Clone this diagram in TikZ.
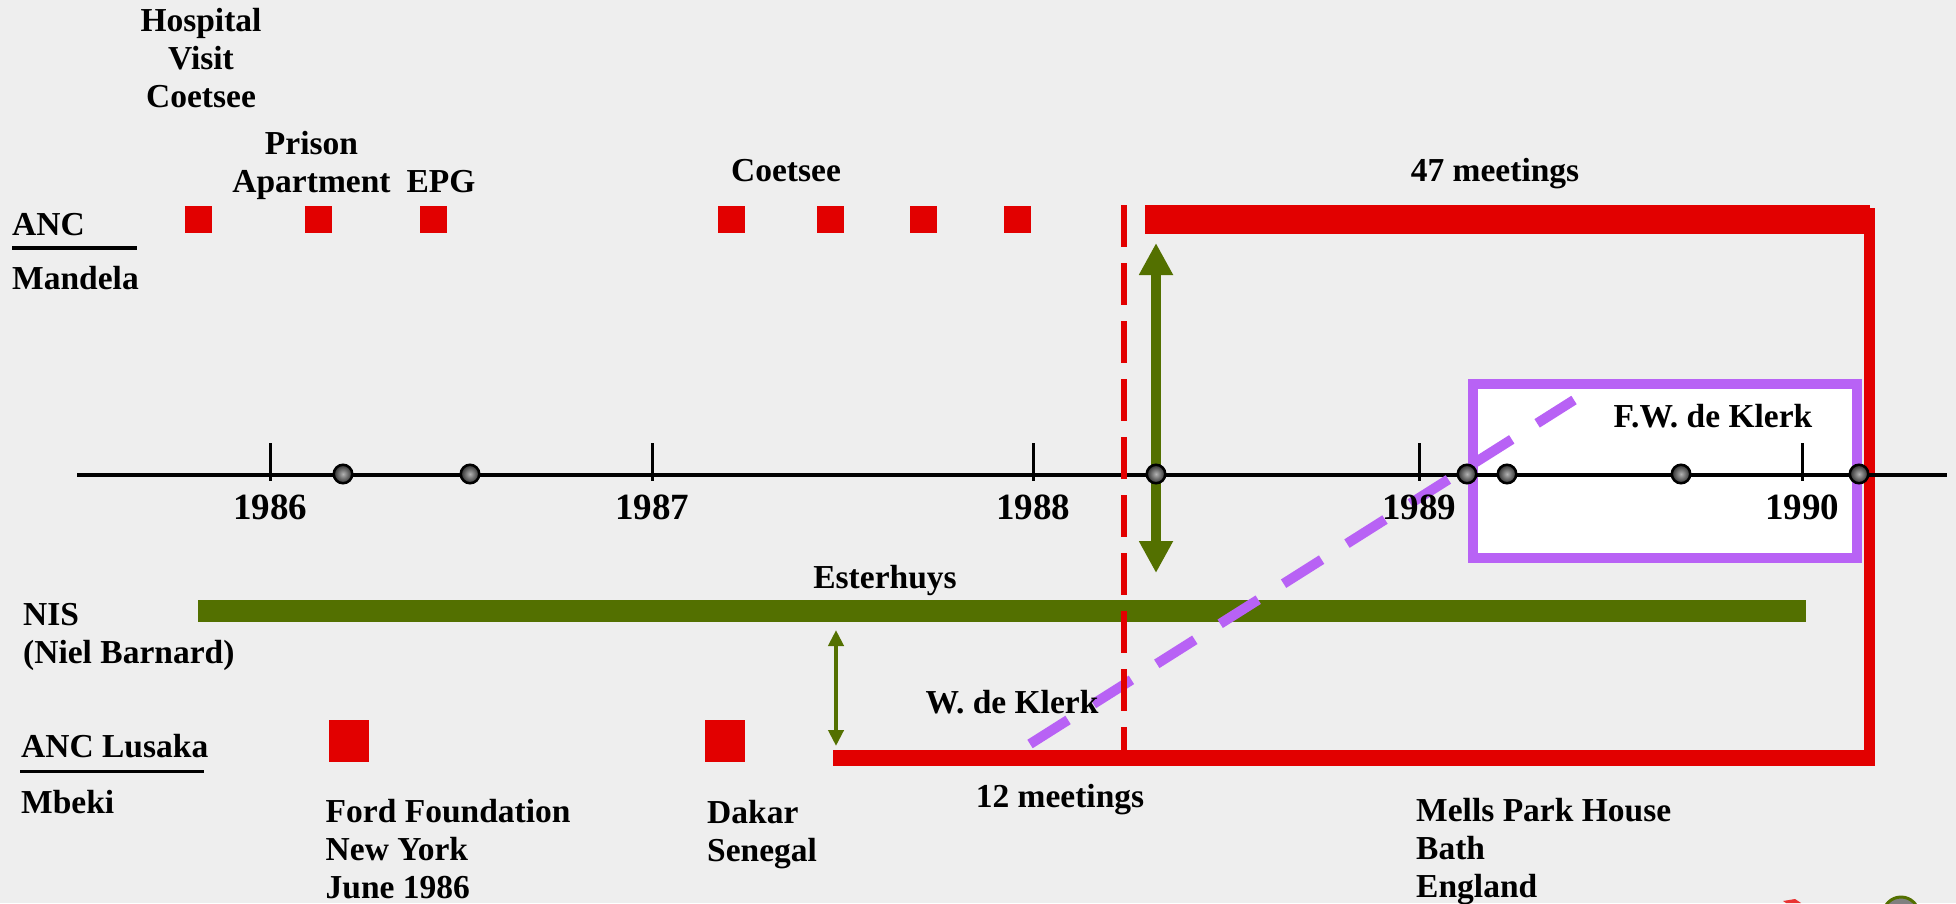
\documentclass[tikz,border=0pt]{standalone}
\usepackage{fontspec}
\setmainfont{Liberation Serif}
\usetikzlibrary{arrows.meta}
\definecolor{bggray}{RGB}{238,238,238}
\definecolor{ancred}{RGB}{226,0,0}
\definecolor{nisgreen}{RGB}{83,112,0}
\definecolor{fwpurple}{RGB}{184,98,245}
\newcommand{\lblfont}{\fontsize{33.5}{38}\selectfont\bfseries}
\newcommand{\yrfont}{\fontsize{37}{40}\selectfont\bfseries}
\tikzset{
  lbl/.style={font=\lblfont,inner sep=0pt,anchor=base},
  lblw/.style={lbl,anchor=base west,align=left},
  yr/.style={font=\yrfont,inner sep=0pt,anchor=base},
  meet/.style={fill=ancred,inner sep=0pt,minimum size=27pt},
  lusaka/.style={fill=ancred,inner sep=0pt,minimum width=40pt,minimum height=42pt},
  dot/.style={circle,draw=black,line width=2.5pt,inner sep=0pt,minimum size=18.5pt,
    inner color=gray!60,outer color=gray!35!black}
}
\begin{document}
\begin{tikzpicture}[x=1pt,y=-1pt]
  \fill[bggray] (0,0) rectangle (1956,903);
  \clip (0,0) rectangle (1956,903);

  % F.W. de Klerk box
  \node[draw=fwpurple,line width=10pt,fill=white,inner sep=0pt,
    minimum width=384pt,minimum height=174pt] (fwbox) at (1665,471) {};

  % bars
  \coordinate (t1) at (1145,219.5);
  \coordinate (t2) at (1870,219.5);
  \coordinate (r1) at (1869.5,208);
  \coordinate (r2) at (1869.5,766);
  \coordinate (b1) at (833,758);
  \coordinate (b2) at (1875,758);
  \coordinate (g1) at (198,611);
  \coordinate (g2) at (1806,611);
  \coordinate (ax1) at (77,475);
  \coordinate (ax2) at (1947,475);
  \begin{scope}[every edge/.style={draw}]
    \path (g1) edge[nisgreen,line width=22pt] (g2);
    \path (t1) edge[ancred,line width=29pt] (t2);
    \path (r1) edge[ancred,line width=11pt] (r2);
    \path (b1) edge[ancred,line width=16pt] (b2);
    \path (ax1) edge[black,line width=4pt] (ax2);
  \end{scope}

  % ticks
  \draw[line width=3pt] (270,443) -- (270,481);
  \draw[line width=3pt] (652,443) -- (652,481);
  \draw[line width=3pt] (1033,443) -- (1033,481);
  \draw[line width=3pt] (1419,443) -- (1419,481);
  \draw[line width=3pt] (1802,443) -- (1802,481);

  % dashed lines
  \coordinate (w1) at (1030,744);
  \coordinate (w2) at (1574,400);
  \coordinate (c1) at (1124,205);
  \coordinate (c2) at (1124,750);
  \draw[fwpurple,line width=10pt,dash pattern=on 45pt off 30pt] (w1) -- (w2);
  \draw[ancred,line width=6pt,dash pattern=on 42pt off 16pt] (c1) -- (c2);

  % arrows
  \coordinate (bigtop) at (1156,243);
  \coordinate (bigbot) at (1156,573);
  \coordinate (smtop) at (836,630);
  \coordinate (smbot) at (836,746);
  \draw[nisgreen,line width=10pt,
    {Triangle[width=32pt,length=32pt]}-{Triangle[width=32pt,length=32pt]}] (bigtop) -- (bigbot);
  \draw[nisgreen,line width=4pt,
    {Triangle[width=15pt,length=16pt]}-{Triangle[width=15pt,length=16pt]}] (smtop) -- (smbot);

  % meetings
  \begin{scope}[every node/.style={meet}]
    \node (m1) at (198.5,219.5) {};
    \node (m2) at (318.5,219.5) {};
    \node (m3) at (433.5,219.5) {};
    \node (m4) at (731.5,219.5) {};
    \node (m5) at (830.5,219.5) {};
    \node (m6) at (923.5,219.5) {};
    \node (m7) at (1017.5,219.5) {};
  \end{scope}
  \node[lusaka] (ford) at (349,741) {};
  \node[lusaka] (dakar) at (725,741) {};

  % points on the time line
  \begin{scope}[every node/.style={dot}]
    \node (p1) at (343,474) {};
    \node (p2) at (470,474) {};
    \node (p3) at (1156,474) {};
    \node (p4) at (1467,474) {};
    \node (p5) at (1507,474) {};
    \node (p6) at (1681,474) {};
    \node (p7) at (1859,474) {};
  \end{scope}

  % years
  \node[yr] (y86) at (270,519) {1986};
  \node[yr] (y87) at (652,519) {1987};
  \node[yr] (y88) at (1033,519) {1988};
  \node[yr] (y89) at (1419,519) {1989};
  \node[yr] (y90) at (1802,519) {1990};

  % labels (multi-line ones sit on their last line)
  \node[lbl,align=center] (hosp) at (201,107) {Hospital\\Visit\\Coetsee};
  \node[lbl,align=center] (prison) at (311.5,192) {Prison\\Apartment};
  \node[lbl] (epg) at (441,192) {EPG};
  \node[lbl] (coetsee) at (786,181) {Coetsee};
  \node[lbl] (m47) at (1495,181) {47 meetings};
  \node[lblw] (anc) at (12,235) {ANC};
  \node[lblw] (mandela) at (12,289) {Mandela};
  \node[lbl] (fwk) at (1713,427) {F.W. de Klerk};
  \node[lbl] (esterhuys) at (885,588) {Esterhuys};
  \node[lblw] (nis) at (23,663) {NIS\\(Niel Barnard)};
  \node[lbl] (wdk) at (1012,713) {W. de Klerk};
  \node[lblw] (lusakatxt) at (21,757) {ANC Lusaka};
  \node[lblw] (mbeki) at (21,813) {Mbeki};
  \node[lblw] (fordtxt) at (325.5,898) {Ford Foundation\\New York\\June 1986};
  \node[lblw] (dakartxt) at (707,861) {Dakar\\Senegal};
  \node[lbl] (m12) at (1060,807) {12 meetings};
  \node[lblw] (mells) at (1416,897) {Mells Park House\\Bath\\England};
  \draw[line width=3.5pt] (12,248) -- (137,248);
  \draw[line width=3pt] (20,771) -- (204,771);

  % cut-off buttons
  \fill[ancred!80] (1783,901) -- (1795,899) -- (1801,903) -- (1786,903) -- cycle;
  \draw[nisgreen,line width=3pt,fill=gray] (1901,915) circle (18);
\end{tikzpicture}
\end{document}
